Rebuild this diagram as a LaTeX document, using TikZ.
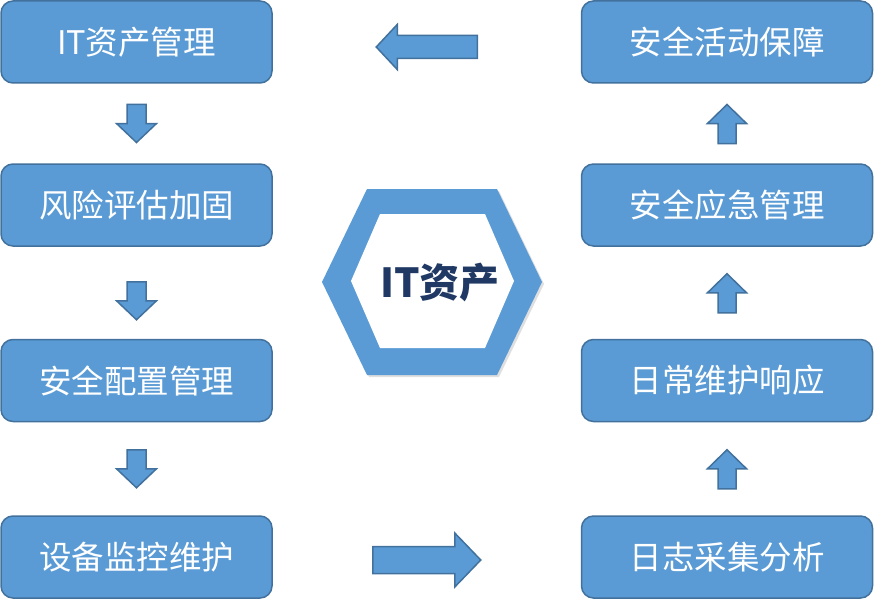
\documentclass[tikz,border=0pt]{standalone}
\usepackage{fontspec}
\setmainfont{Noto Sans CJK SC}
\usetikzlibrary{calc, shadows}
\definecolor{boxblue}{RGB}{91,155,213}
\definecolor{boxedge}{RGB}{65,113,156}
\definecolor{coretext}{RGB}{31,56,100}

\begin{document}
\begin{tikzpicture}[
    x=1pt, y=-1pt,
    box/.style    = {rectangle, rounded corners=12pt, minimum height=82pt,
                     draw=boxedge, line width=1.5pt, fill=boxblue,
                     text=white, inner sep=0pt,
                     font=\fontsize{32.5}{38}\selectfont},
    lbox/.style   = {box, minimum width=271pt},
    rbox/.style   = {box, minimum width=291pt},
    barrow/.style = {fill=boxblue, draw=boxedge, line width=1.5pt},
    downarr/.pic  = {\draw[barrow] (-9.5,-19) -- (-9.5,0) -- (-20,0) -- (0,19)
                      -- (20,0) -- (9.5,0) -- (9.5,-19) -- cycle;},
    uparr/.pic    = {\draw[barrow] (-9,20) -- (-9,0) -- (-19.5,0) -- (0,-19)
                      -- (19.5,0) -- (9,0) -- (9,20) -- cycle;},
    leftarr/.pic  = {\draw[barrow] (50.5,-11.5) -- (-29.5,-11.5) -- (-29.5,-22.5)
                      -- (-50.5,0) -- (-29.5,22.5) -- (-29.5,11.5) -- (50.5,11.5) -- cycle;},
    rightarr/.pic = {\draw[barrow] (-54,-13.5) -- (28,-13.5) -- (28,-27)
                      -- (54,0) -- (28,27) -- (28,13.5) -- (-54,13.5) -- cycle;}
]
\fill[white] (0,0) rectangle (874,599);
\useasboundingbox (0,0) rectangle (874,599);

%% Left column (top to bottom)
\node[lbox] (itmgmt)  at (136.5,42)    {IT资产管理};
\node[lbox] (risk)    at (136.5,205)   {风险评估加固};
\node[lbox] (config)  at (136.5,380.5) {安全配置管理};
\node[lbox] (monitor) at (136.5,557)   {设备监控维护};

%% Right column (bottom to top)
\node[rbox] (logs)    at (727,557)     {日志采集分析};
\node[rbox] (daily)   at (727,380.5)   {日常维护响应};
\node[rbox] (emerg)   at (727,205)     {安全应急管理};
\node[rbox] (secact)  at (727,42)      {安全活动保障};

%% Centre hexagon
\fill[boxblue, drop shadow={opacity=0.25, shadow xshift=2pt, shadow yshift=-2pt}]
    (322,282) -- (367,189) -- (497,189) -- (542,282) -- (497,375) -- (367,375) -- cycle;
\fill[white]
    (351,281) -- (380,214) -- (485,214) -- (514,281) -- (485,348) -- (380,348) -- cycle;
\node[font=\fontsize{40}{48}\selectfont\bfseries, text=coretext] (core) at (440,282) {IT资产};

%% Flow arrows down the left side
\pic at ($(itmgmt.south)!0.5!(risk.north)$)            {downarr};
\pic at ($(risk.south)!0.5!(config.north)+(0,8)$)      {downarr};
\pic at ($(config.south)!0.5!(monitor.north)$)         {downarr};

%% Across the bottom, up the right side, back across the top
\pic at ($(monitor.east)!0.5!(logs.west)+(0,3)$)       {rightarr};
\pic at ($(logs.north)!0.5!(daily.south)$)             {uparr};
\pic at ($(daily.north)!0.5!(emerg.south)$)            {uparr};
\pic at ($(emerg.north)!0.5!(secact.south)$)           {uparr};
\pic at ($(secact.west)!0.5!(itmgmt.east)+(0,5)$)      {leftarr};

\end{tikzpicture}
\end{document}
